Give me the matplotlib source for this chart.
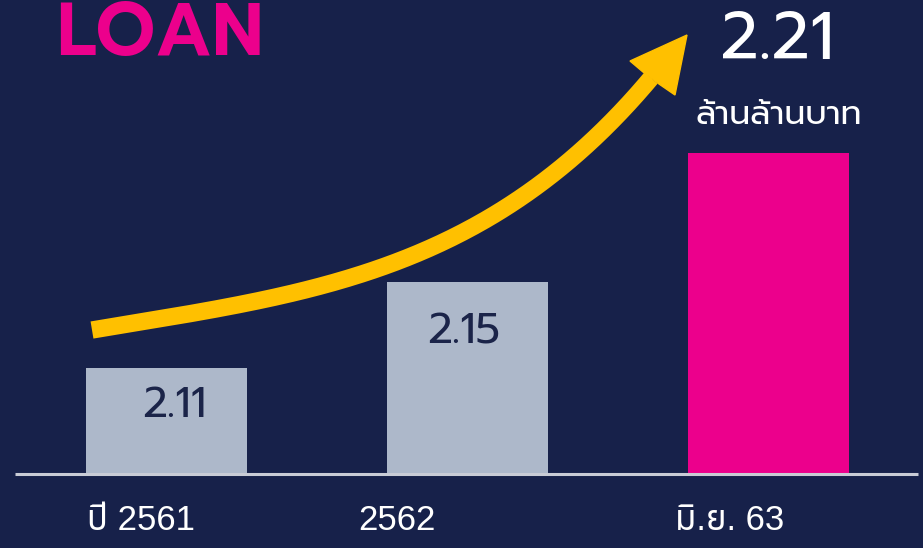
import numpy as np
import matplotlib
matplotlib.use('Agg')
import matplotlib.pyplot as plt
from matplotlib.path import Path
from matplotlib.patches import PathPatch, Polygon

# data
categories = ['ปี 2561', '2562', 'มิ.ย. 63']
values = [2.11, 2.15, 2.21]
value_labels = ['2.11', '2.15', '2.21']
unit = 'ล้านล้านบาท'
title = 'LOAN'

BG = '#17214a'
GREY = '#adb8ca'
PINK = '#ec008c'
YELLOW = '#ffc000'
NAVY = '#1b2449'

W, H = 923, 548
fig = plt.figure(figsize=(W / 100, H / 100), dpi=100)
fig.patch.set_facecolor(BG)
ax = fig.add_axes([0, 0, 1, 1])
ax.set_facecolor(BG)
ax.set_axis_off()

base = 2.0607
ax.set_xlim(-0.553, 2.513)
ax.set_ylim(2.0263, 2.2812)

x = range(len(values))
colors = [GREY, GREY, PINK]
ax.bar(x, [v - base for v in values], bottom=base, width=0.535,
       color=colors, zorder=2)
ax.plot([-0.503, 2.496], [base, base], color='#c9ccd6', lw=2.2,
        solid_capstyle='butt', zorder=3)

def px(xp, yp):
    return (xp / W, 1 - yp / H)

# values inside / above bars
fig.text(*px(174, 406), value_labels[0], ha='center', va='center',
         fontsize=31, color=NAVY, family='Prompt', zorder=4)
fig.text(*px(464, 332), value_labels[1], ha='center', va='center',
         fontsize=31, color=NAVY, family='Prompt', zorder=4)
fig.text(*px(777, 42), value_labels[2], ha='center', va='center',
         fontsize=48, color='white', family='Prompt')
fig.text(*px(779, 116), unit, ha='center', va='center',
         fontsize=24, color='white', family='Prompt')
fig.text(*px(56, 35), title, ha='left', va='center',
         fontsize=53, color=PINK, family='Prompt', weight='semibold')

# x labels
label_x = [87, 358, 675]
for lx, lab in zip(label_x, categories):
    fig.text(*px(lx, 521), lab, ha='left', va='center', fontsize=25,
             color='white', family=['Liberation Sans', 'Noto Sans Thai'])

# trend arrow: smooth polynomial through guide points (pixel space)
gx = np.array([92, 200, 300, 400, 470, 540, 600, 651], dtype=float)
gy = np.array([330, 312, 291, 261, 228, 184, 133, 78], dtype=float)
coef = np.polyfit(gx, gy, 4)
sx = np.linspace(gx[0], gx[-1], 200)
sy = np.polyval(coef, sx)
shaft = Path([px(a, b) for a, b in zip(sx, sy)])
fig.patches.append(PathPatch(shaft, fill=False, edgecolor=YELLOW, lw=12.5,
                             capstyle='butt', joinstyle='round',
                             transform=fig.transFigure, figure=fig))
head = [px(630, 61), px(687, 35), px(675, 95), px(659, 84), px(643, 72)]
fig.patches.append(Polygon(head, closed=True, color=YELLOW,
                           transform=fig.transFigure, figure=fig))

fig.savefig('out.png', facecolor=BG)
